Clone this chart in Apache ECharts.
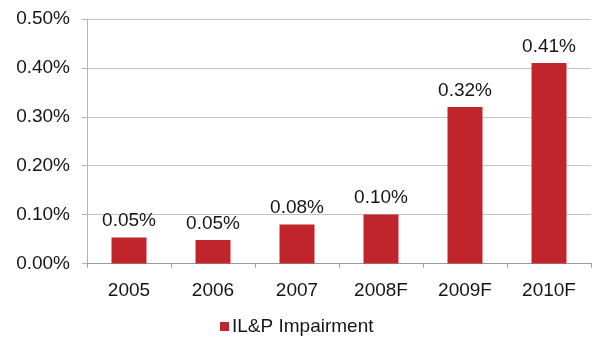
<!DOCTYPE html>
<html>
<head>
<meta charset="utf-8">
<script src="https://cdn.jsdelivr.net/npm/echarts@6/dist/echarts.min.js"></script>
<style>
  html, body { margin: 0; padding: 0; background: #ffffff; }
  #chart { width: 592px; height: 337px; }
</style>
</head>
<body>
<div id="chart"></div>
<script>
// Impairment rate by year (percent), forecasts marked "F"
const categories = ['2005', '2006', '2007', '2008F', '2009F', '2010F'];
const impairment = [0.053, 0.048, 0.08, 0.10, 0.32, 0.41];
const yTicks = { min: 0, max: 0.5, interval: 0.1 };
const seriesName = 'IL&P Impairment';

const font = 'Liberation Sans, Arial, sans-serif';
const textColor = '#161616';
const barColor = '#c0252b';

const chart = echarts.init(document.getElementById('chart'), null, { renderer: 'canvas' });
chart.setOption({
  animation: false,
  backgroundColor: '#ffffff',
  textStyle: { fontFamily: font },
  grid: { left: 87, right: 1, top: 19, bottom: 73.5, containLabel: false },
  legend: {
    data: [seriesName],
    left: 215,
    top: 312,
    icon: 'rect',
    itemWidth: 9,
    itemHeight: 9,
    itemGap: 3,
    textStyle: { fontFamily: font, fontSize: 19, color: textColor, padding: [0, 0, 0, -2] }
  },
  xAxis: {
    type: 'category',
    data: categories,
    axisLine: { lineStyle: { color: '#9a9a9a', width: 1 } },
    axisTick: { show: true, length: 4, lineStyle: { color: '#9a9a9a' } },
    axisLabel: { fontFamily: font, fontSize: 19, color: textColor, margin: 18 }
  },
  yAxis: {
    type: 'value',
    min: yTicks.min,
    max: yTicks.max,
    interval: yTicks.interval,
    axisLine: { show: true, lineStyle: { color: '#b4b4b4', width: 1 } },
    axisTick: { show: true, length: 5, lineStyle: { color: '#b4b4b4' } },
    axisLabel: {
      fontFamily: font, fontSize: 19, color: textColor, margin: 17,
      formatter: v => v.toFixed(2) + '%'
    },
    splitLine: { show: true, lineStyle: { color: '#c4c4c4', width: 1 } }
  },
  series: [{
    name: seriesName,
    type: 'bar',
    data: impairment,
    barWidth: 35,
    itemStyle: { color: barColor },
    label: {
      show: true,
      position: 'top',
      distance: 7,
      fontFamily: font,
      fontSize: 19,
      color: textColor,
      formatter: p => p.value.toFixed(2) + '%'
    }
  }]
});
</script>
</body>
</html>
